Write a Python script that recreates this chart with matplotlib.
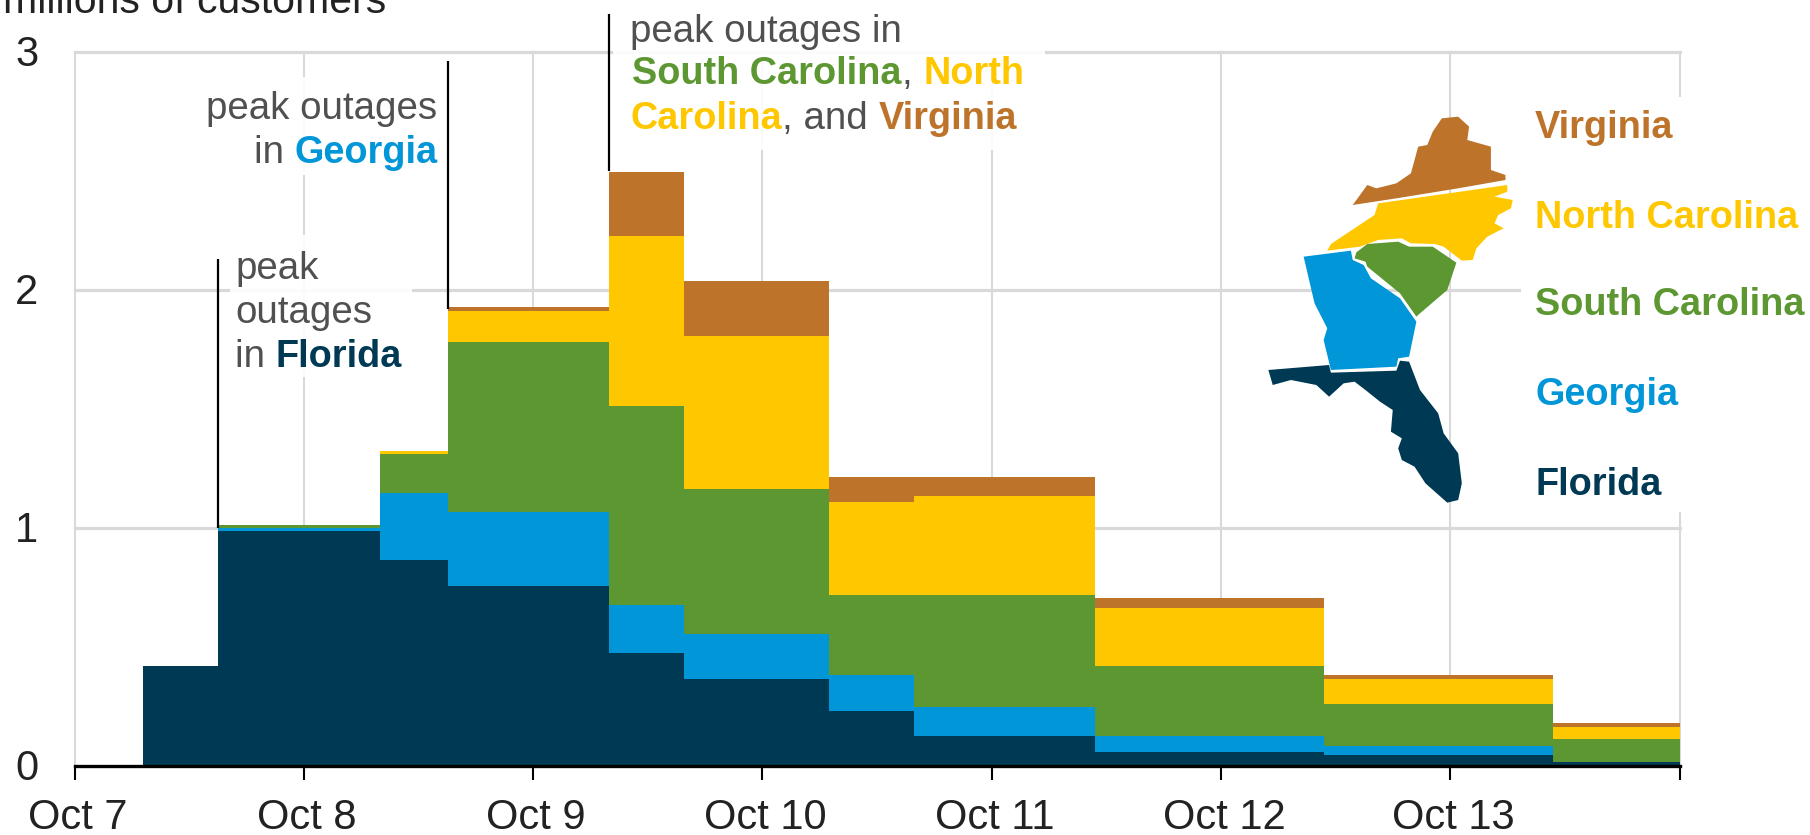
import matplotlib
matplotlib.use("Agg")
import matplotlib.pyplot as plt
import numpy as np
from matplotlib.patches import Polygon, Rectangle
from matplotlib.transforms import ScaledTranslation, Affine2D

W, H = 1810, 835
plt.rcParams['font.family'] = ['Liberation Sans', 'DejaVu Sans']

# ---- data (millions of customers without power) ----
edges = [0.30, 0.625, 1.33, 1.63, 2.33, 2.66, 3.29, 3.66, 4.45, 5.45, 6.45, 7.0]
florida = [0.42, 0.988, 0.864, 0.755, 0.474, 0.365, 0.231, 0.127, 0.059, 0.046, 0.017]
georgia = [0, 0.012, 0.282, 0.312, 0.202, 0.190, 0.151, 0.121, 0.068, 0.039, 0]
south_carolina = [0, 0.011, 0.163, 0.712, 0.835, 0.607, 0.336, 0.470, 0.293, 0.175, 0.096]
north_carolina = [0, 0, 0.013, 0.134, 0.713, 0.642, 0.390, 0.415, 0.243, 0.105, 0.051]
virginia = [0, 0, 0, 0.013, 0.269, 0.231, 0.105, 0.080, 0.042, 0.017, 0.016]
x_labels = ['Oct 7', 'Oct 8', 'Oct 9', 'Oct 10', 'Oct 11', 'Oct 12', 'Oct 13', '']
y_ticks = [0, 1, 2, 3]

C_FL, C_GA, C_SC, C_NC, C_VA = '#003953', '#0096d7', '#5d9732', '#ffc700', '#bd732a'
GRAY = '#505050'
GRID = '#d9d9d9'

fig = plt.figure(figsize=(W / 100, H / 100), dpi=100, facecolor='white')
L, R, T, B = 74.6, 1679.5, 51.7, 766.0
ax = fig.add_axes([L / W, 1 - B / H, (R - L) / W, (B - T) / H])
ax.set_xlim(0, 7)
ax.set_ylim(0, 3)
ax.patch.set_alpha(0)

px = Affine2D().scale(1 / W, -1 / H).translate(0, 1) + fig.transFigure

# grid
ax.set_axisbelow(True)
for v in range(8):
    ax.axvline(v, color=GRID, lw=1.5, zorder=0.5, clip_on=False)
for v in y_ticks[1:]:
    ax.axhline(v, color=GRID, lw=2.3, zorder=0.5, clip_on=False)

# white text backgrounds that veil the grid
masks = [(1521, 97, 175, 415, 1.0), (206, 77, 232, 98, 0.9),
         (230, 235, 182, 142, 0.9), (613, 46, 432, 104, 0.9)]
for x0, y0, w, h, a in masks:
    ax.add_patch(Rectangle((x0, y0), w, h, transform=px, fc='white', ec='none',
                           alpha=a, zorder=1, clip_on=False))

# stacked steps
bottom = np.zeros(len(florida))
for vals, col in [(florida, C_FL), (georgia, C_GA), (south_carolina, C_SC),
                  (north_carolina, C_NC), (virginia, C_VA)]:
    vals = np.array(vals)
    ax.bar(edges[:-1], vals, width=np.diff(edges), bottom=bottom, align='edge',
           color=col, lw=0, zorder=2)
    bottom = bottom + vals

# axes
for s in ['top', 'left', 'right']:
    ax.spines[s].set_visible(False)
ax.spines['bottom'].set_linewidth(2.4)
ax.spines['bottom'].set_color('black')
ax.spines['bottom'].set_zorder(3)
ax.set_xticks(range(8))
ax.set_xticklabels(x_labels)
ax.set_yticks(y_ticks)
ax.tick_params(axis='x', length=10, width=1.5, color='black', pad=13, labelsize=30, labelcolor='#222222')
ax.tick_params(axis='y', length=0, pad=26, labelsize=30, labelcolor='#222222')
for lb in ax.get_xticklabels():
    lb.set_transform(lb.get_transform() + ScaledTranslation(3 / 100, 0, fig.dpi_scale_trans))
for lb in ax.get_yticklabels():
    lb.set_transform(lb.get_transform() + ScaledTranslation(0, 1 / 100, fig.dpi_scale_trans))

# title (clipped by the top of the figure in the reference)
ax.text(386, 13, 'millions of customers', transform=px, ha='right', va='baseline',
        fontsize=29.5, color='#222222', clip_on=False)

# leader lines
for xv, y0, y1 in [(0.625, 1.0, 2.13), (1.63, 1.92, 2.96), (2.33, 2.5, 3.16)]:
    ax.plot([xv, xv], [y0, y1], color='black', lw=1.6, zorder=3, clip_on=False,
            solid_capstyle='butt')

# annotation runs
renderer = fig.canvas.get_renderer()


def runs(x, y, parts, align='left'):
    arts = []
    total = 0
    for s, col, bold in parts:
        t = ax.text(0, y, s.replace(' ', '\u00a0'), transform=px,
                    fontsize=27.3 if bold else 27.7, color=col,
                    fontweight='bold' if bold else 'normal', va='baseline',
                    ha='left', zorder=5, clip_on=False)
        w = t.get_window_extent(renderer).width
        arts.append((t, w))
        total += w
    cur = x if align == 'left' else x - total
    for t, w in arts:
        t.set_x(cur)
        cur += w


runs(235, 279, [('peak', GRAY, False)])
runs(235, 323, [('outages', GRAY, False)])
runs(235, 367, [('in ', GRAY, False), ('Florida', C_FL, True)])

runs(437.5, 119, [('peak outages', GRAY, False)], 'right')
runs(437.5, 163, [('in ', GRAY, False), ('Georgia', C_GA, True)], 'right')

runs(630, 42, [('peak outages in', GRAY, False)])
runs(632, 84, [('South Carolina', C_SC, True), (', ', GRAY, False), ('North', C_NC, True)])
runs(630, 129, [('Carolina', C_NC, True), (', and ', GRAY, False), ('Virginia', C_VA, True)])

# legend labels
for s, c, yy in [('Virginia', C_VA, 138), ('North Carolina', C_NC, 228),
                 ('South Carolina', C_SC, 315), ('Georgia', C_GA, 405), ('Florida', C_FL, 495)]:
    runs(1535, yy, [(s, c, True)])

# decorative locator map, traced in reference pixels
shape_va = [(310,345),(350,285),(375,295),(430,280),(470,250),(490,170),(515,165),(530,125),(555,85),(600,80),(630,110),(625,150),(690,170),(690,240),(730,255),(730,270),(600,295),(430,325)]
shape_nc = [(380,340),(735,285),(735,305),(700,320),(750,330),(745,355),(710,375),(700,400),(725,415),(680,440),(650,475),(640,510),(610,512),(560,470),(535,462),(470,460),(445,445),(380,450),(330,470),(240,482),(250,462),(370,375)]
shape_sc = [(320,487),(350,462),(435,455),(465,470),(530,470),(595,518),(570,600),(495,670),(485,680),(440,610),(350,530),(345,515),(315,505)]
shape_ga = [(175,500),(305,482),(310,510),(340,525),(360,565),(440,625),(485,695),(465,800),(435,805),(430,830),(250,840),(230,750),(240,715),(205,640)]
shape_fl = [(78,840),(245,825),(250,848),(430,842),(440,812),(465,815),(495,900),(545,970),(560,1030),(600,1090),(610,1180),(600,1230),(570,1238),(510,1180),(480,1130),(445,1110),(435,1075),(445,1045),(415,1025),(420,960),(385,935),(345,900),(315,875),(285,880),(245,920),(210,885),(140,870),(90,885)]
for shape, col in [(shape_fl, C_FL), (shape_ga, C_GA), (shape_sc, C_SC), (shape_nc, C_NC), (shape_va, C_VA)]:
    pts = [(1240 + a / 2.75, 90 + b / 3) for a, b in shape]
    ax.add_patch(Polygon(pts, closed=True, transform=px, fc=col, ec='none', zorder=4, clip_on=False))

fig.savefig('out.png', dpi=100, facecolor='white')
